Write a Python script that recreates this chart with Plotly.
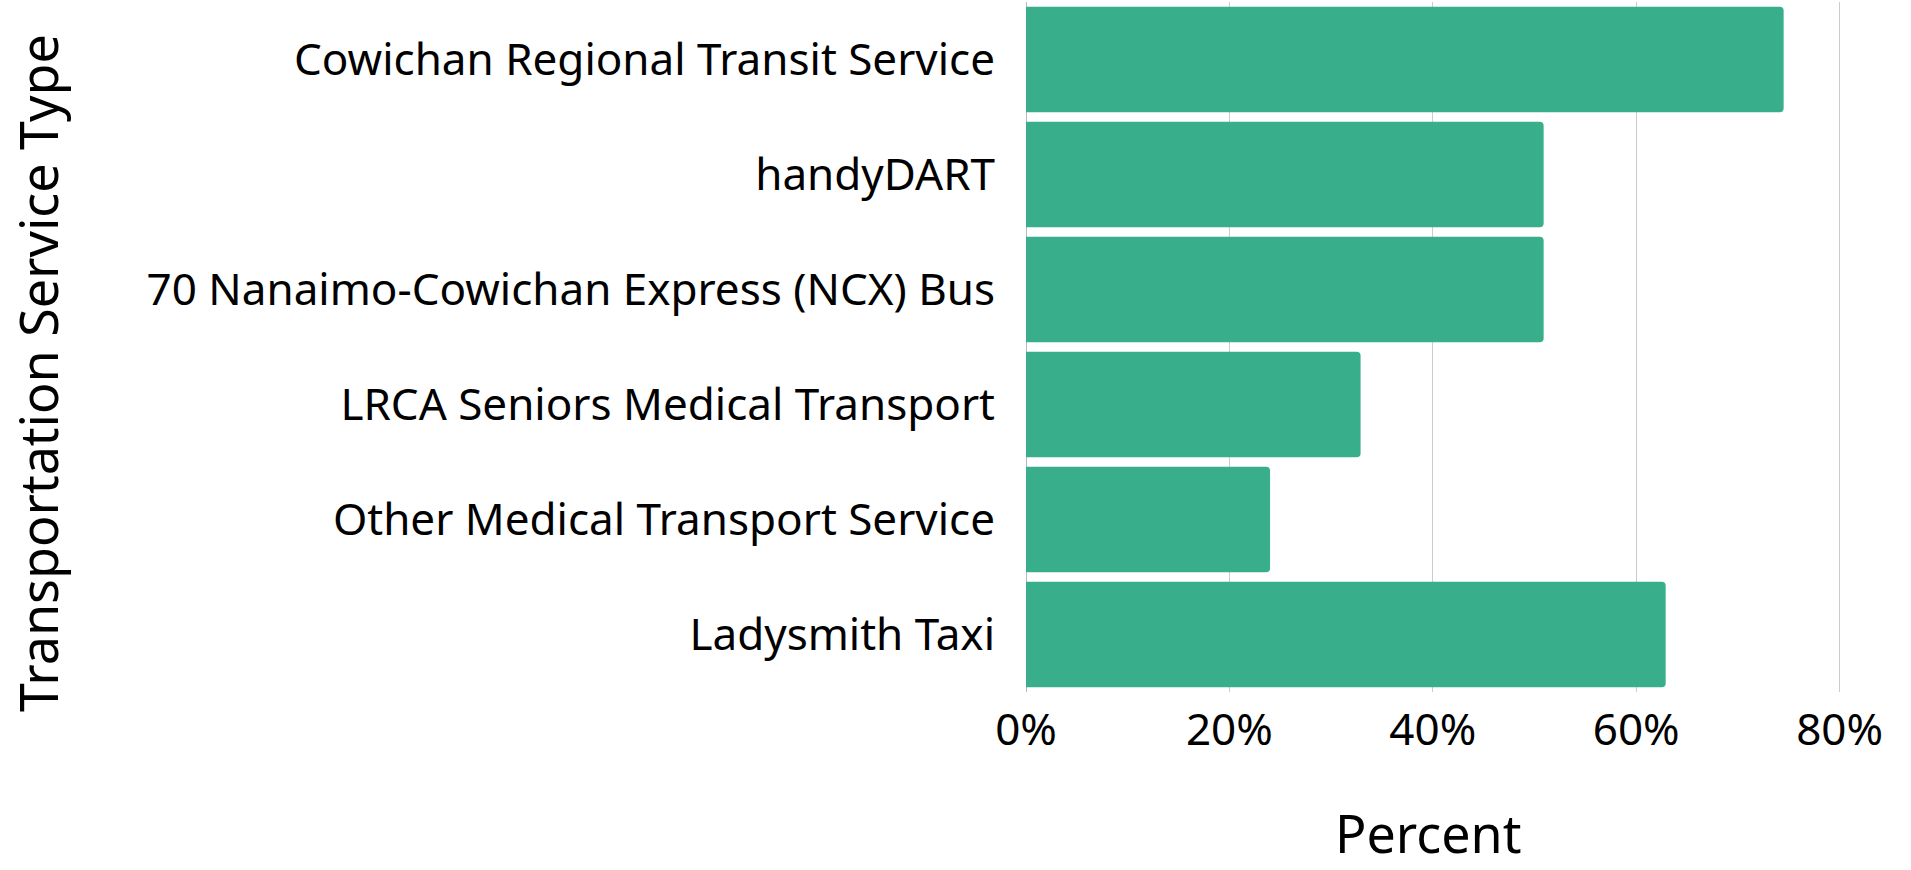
import plotly.graph_objects as go

categories = [
    "Cowichan Regional Transit Service",
    "handyDART",
    "70 Nanaimo-Cowichan Express (NCX) Bus",
    "LRCA Seniors Medical Transport",
    "Other Medical Transport Service",
    "Ladysmith Taxi",
]
percent_values = [74.5, 50.9, 50.9, 32.9, 24.0, 62.9]
x_tick_values = [0, 20, 40, 60, 80]
x_tick_labels = ["0%", "20%", "40%", "60%", "80%"]

BAR_COLOR = "#38AE8A"
FONT = "Noto Sans"

W, H = 1911, 870
ML, MR, MT, MB = 1026, 46, 2, 178
PW, PH = W - ML - MR, H - MT - MB

fig = go.Figure(
    go.Bar(
        x=percent_values,
        y=categories,
        orientation="h",
        marker=dict(color=BAR_COLOR, line=dict(width=0)),
    )
)

fig.update_layout(
    width=W,
    height=H,
    margin=dict(l=ML, r=MR, t=MT, b=MB, autoexpand=False),
    paper_bgcolor="white",
    plot_bgcolor="white",
    bargap=0.084,
    barcornerradius=4,
    showlegend=False,
    font=dict(family=FONT, color="black"),
)

fig.update_xaxes(
    range=[0, 82.5],
    tickvals=x_tick_values,
    ticktext=x_tick_labels,
    tickfont=dict(family=FONT, size=44, color="black"),
    showgrid=True,
    gridcolor="#cccccc",
    gridwidth=1,
    zeroline=True,
    zerolinecolor="#b8b8b8",
    zerolinewidth=1,
    showline=False,
    ticks="",
    ticklabelstandoff=8,
    automargin=False,
)
fig.update_yaxes(
    autorange="reversed",
    tickfont=dict(family=FONT, size=44, color="black"),
    showgrid=False,
    showline=False,
    ticks="",
    ticklabelstandoff=30,
    automargin=False,
)

fig.add_annotation(
    text="Percent", xref="paper", yref="paper", x=(1428 - ML) / PW, y=-MB / PH,
    xanchor="center", yanchor="bottom", showarrow=False,
    font=dict(family=FONT, size=52, color="black"),
)
fig.add_annotation(
    text="Transportation Service Type", xref="paper", yref="paper",
    x=(37 - ML) / PW, y=(H - MB - 373) / PH,
    xanchor="center", yanchor="middle", textangle=-90, showarrow=False,
    font=dict(family=FONT, size=52, color="black"),
)

fig.write_html(
    "out.html",
    config={"displayModeBar": False},
    post_script="document.body.style.margin='0';",
)
